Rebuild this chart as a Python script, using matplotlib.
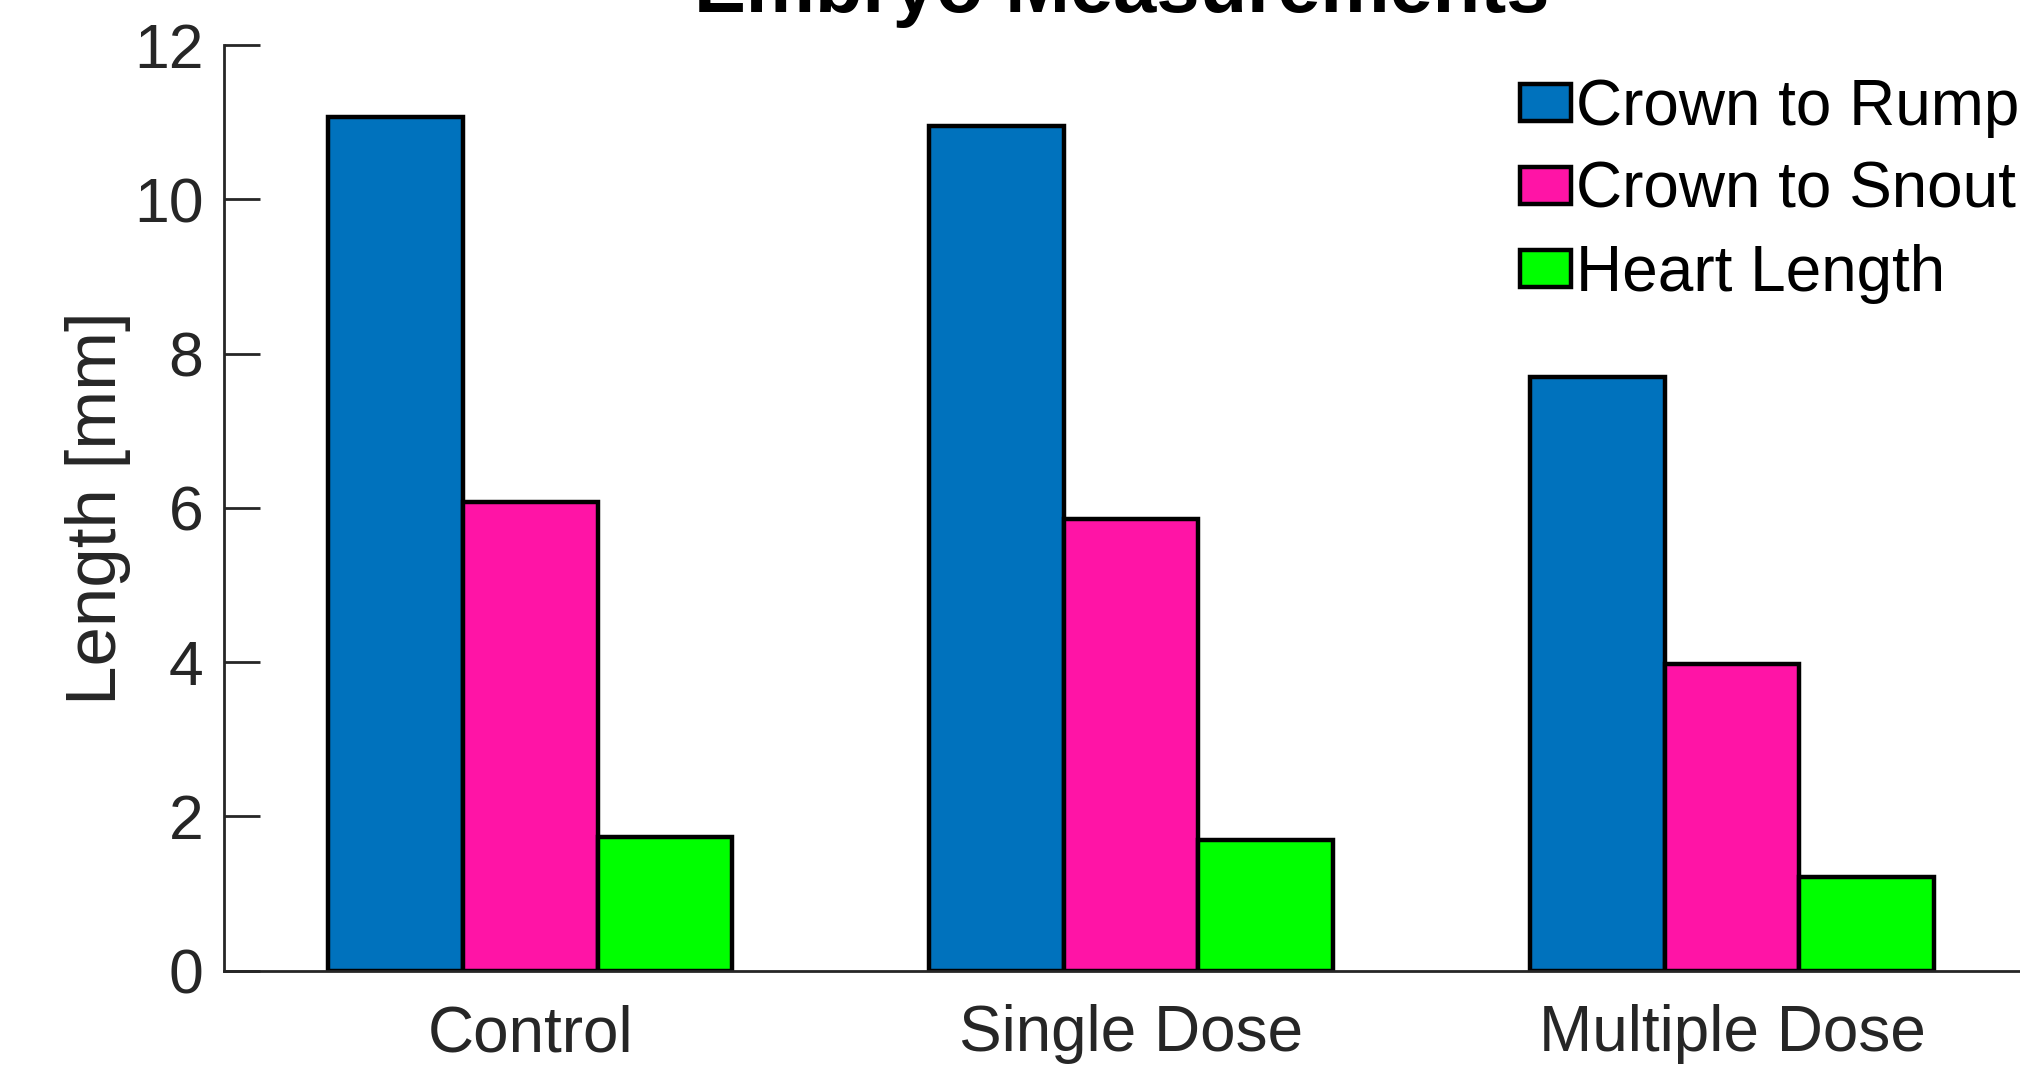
import numpy as np
import matplotlib
matplotlib.use('Agg')
from matplotlib import pyplot as plt

categories = ['Control', 'Single Dose', 'Multiple Dose']
series_names = ['Crown to Rump', 'Crown to Snout', 'Heart Length']
crown_to_rump = [11.07, 10.95, 7.70]
crown_to_snout = [6.08, 5.85, 3.97]
heart_length = [1.73, 1.69, 1.21]
colors = ['#0072BD', '#FF14A6', '#00FF00']

plt.rcParams['font.family'] = ['Liberation Sans', 'DejaVu Sans']
axis_color = '#262626'

fig = plt.figure(figsize=(20.2, 10.65), dpi=100)
ax = fig.add_axes([224.3 / 2020, 94.3 / 1065, 1 - 224.3 / 2020, 925.7 / 1065])

x = np.arange(1, len(categories) + 1)
w = 0.224
for i, (vals, name) in enumerate(zip([crown_to_rump, crown_to_snout, heart_length], series_names)):
    ax.bar(x + (i - 1) * w, vals, width=w, color=colors[i], edgecolor='black',
           linewidth=3.2, label=name, zorder=2)

ax.set_xlim(0.491, 3.479)
ax.set_ylim(0, 12)
ax.set_yticks(range(0, 13, 2))
ax.set_xticks(x)
ax.set_xticklabels(categories)

for s in ['top', 'right']:
    ax.spines[s].set_visible(False)
for s in ['left', 'bottom']:
    ax.spines[s].set_color(axis_color)
    ax.spines[s].set_linewidth(2.0)
    ax.spines[s].set_zorder(3)

ax.tick_params(axis='both', direction='in', length=26, width=2.0, color=axis_color,
               labelcolor=axis_color, labelsize=45)
ax.tick_params(axis='x', labelsize=46, pad=24)
ax.tick_params(axis='y', pad=15)

ax.set_ylabel('Length [mm]', fontsize=51, color=axis_color, labelpad=2)
ax.set_title('Embryo Measurements', fontsize=56, fontweight='bold', pad=24)

leg = ax.legend(loc='upper left', bbox_to_anchor=(1520 / 2020, 1 - 78 / 1065),
                bbox_transform=fig.transFigure, frameon=False, fontsize=46,
                handlelength=0.8, handleheight=0.5, handletextpad=0.08,
                labelspacing=0.36, borderpad=0, borderaxespad=0)
for h in leg.legend_handles:
    h.set_linewidth(3.2)

fig.savefig('out.png', dpi=100)
